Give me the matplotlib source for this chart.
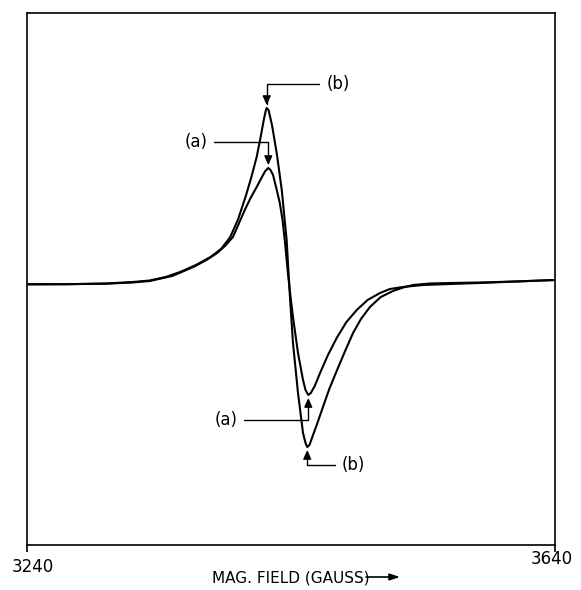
import matplotlib
matplotlib.use("Agg")
from matplotlib import pyplot as plt

# spectrum (b): field in gauss, derivative signal in arbitrary units
field_b = [3240, 3270, 3300, 3320, 3333, 3345, 3356, 3368, 3379, 3387, 3394, 3400,
           3406, 3410, 3414, 3417, 3419.5, 3421, 3421.6, 3423, 3425.6, 3429.4, 3433,
           3436.7, 3439.2, 3441.5, 3445.3, 3449.1, 3451, 3452.3, 3454, 3456.7, 3460,
           3464.2, 3469, 3474.6, 3481, 3487, 3493, 3499.8, 3508, 3517.3, 3525, 3532.4,
           3545, 3560.5, 3583, 3610, 3640]
signal_b = [0.7, 0.8, 1.5, 3, 4.5, 8, 13, 20, 28, 36, 48, 66,
            90, 108, 128, 148, 166, 175, 177, 175, 160, 130, 95,
            45, -12, -58, -108, -148, -158, -162, -160, -150, -138,
            -122, -104, -86, -66, -48, -34, -22, -12, -6, -2.5, 0,
            1.5, 2, 2.5, 3.5, 5]

# spectrum (a)
field_a = [3240, 3270, 3300, 3320, 3333, 3350, 3366, 3376, 3384, 3390, 3396, 3400,
           3405, 3409, 3414, 3418, 3420.5, 3422.8, 3424.5, 3426.4, 3429.2, 3431.5,
           3433.5, 3435.5, 3437.5, 3439.5, 3441.5, 3445.3, 3449.1, 3451, 3453.1, 3455,
           3458, 3462, 3468, 3474.6, 3482, 3489.8, 3498, 3507.4, 3515, 3524.8, 3540,
           3560.5, 3583, 3610, 3640]
signal_a = [0.7, 0.8, 1.3, 2.5, 4, 9, 18, 25, 32, 39, 48, 60,
            75, 86, 98, 108, 114, 117, 115, 110, 95, 82,
            66, 42, 14, -10, -32, -68, -95, -105, -110, -108,
            -101, -88, -70, -53, -37, -25, -15, -8, -4, -2, 0,
            1, 2, 3.5, 5]

field_ticks = [3240, 3640]
xlabel = "MAG. FIELD (GAUSS)"

fig = plt.figure(figsize=(5.81, 5.90), dpi=100)
ax = fig.add_axes([27 / 581, 1 - 545 / 590, 528 / 581, 532 / 590])

ax.plot(field_b, signal_b, color="black", lw=1.5)
ax.plot(field_a, signal_a, color="black", lw=1.5)

ax.set_xlim(field_ticks[0], field_ticks[-1])
ax.set_ylim(-260, 272)
ax.set_yticks([])
ax.set_xticks(field_ticks)
ax.set_xticklabels([])
ax.tick_params(axis="x", direction="out", length=5, width=1.2)
for sp in ax.spines.values():
    sp.set_linewidth(1.2)

# tick labels placed by hand (they sit at different heights in the original)
ax.annotate(str(field_ticks[0]), xy=(field_ticks[0], 0), xycoords=("data", "axes fraction"),
            xytext=(4.5, -16), textcoords="offset points", ha="center", va="center", fontsize=12)
ax.annotate(str(field_ticks[1]), xy=(field_ticks[1], 0), xycoords=("data", "axes fraction"),
            xytext=(-2.5, -10), textcoords="offset points", ha="center", va="center", fontsize=12)

fig.text(212 / 581, 1 - 578 / 590, xlabel, ha="left", va="center", fontsize=11)
ax.annotate("", xy=(400 / 581, 1 - 577 / 590), xycoords="figure fraction",
            xytext=(366 / 581, 1 - 577 / 590), textcoords="figure fraction",
            arrowprops=dict(arrowstyle="-|>,head_length=0.6,head_width=0.2",
                            color="black", lw=1.2, shrinkA=0, shrinkB=0))


def callout(x, y, label, dx, dy, side):
    # L-shaped leader: horizontal from the label, then vertical arrow to the curve
    rel = (0, 0.5) if side == "right" else (1, 0.5)
    ha = "left" if side == "right" else "right"
    ax.annotate(label, xy=(x, y), xytext=(dx, dy), textcoords="offset points",
                ha=ha, va="center", fontsize=12,
                arrowprops=dict(arrowstyle="-|>,head_length=0.5,head_width=0.22",
                                connectionstyle="angle,angleA=0,angleB=90,rad=0",
                                relpos=rel, color="black", lw=1.0,
                                shrinkA=3, shrinkB=2, mutation_scale=11))


ib = signal_b.index(max(signal_b))
ia = signal_a.index(max(signal_a))
jb = signal_b.index(min(signal_b))
ja = signal_a.index(min(signal_a))

callout(field_b[ib], signal_b[ib], "(b)", 43, 17, "right")
callout(field_a[ia], signal_a[ia], "(a)", -44, 19, "left")
callout(field_a[ja], signal_a[ja], "(a)", -51, -18, "left")
callout(field_b[jb], signal_b[jb], "(b)", 25, -13, "right")

plt.savefig("out.png", dpi=100)
